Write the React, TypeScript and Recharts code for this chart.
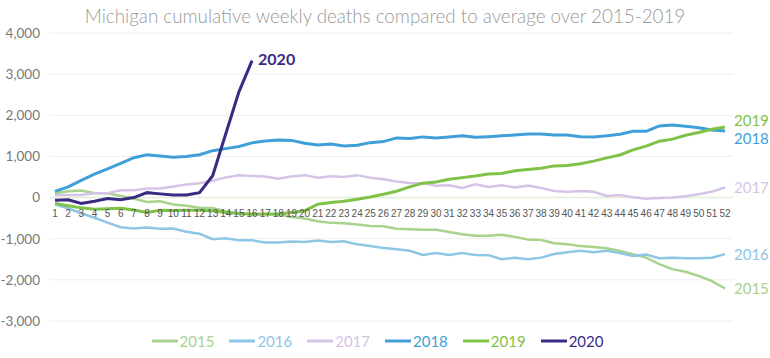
import React from "react";
import { LineChart, Line, XAxis, YAxis, CartesianGrid, ReferenceLine, Legend } from "recharts";

const weeks = [1,2,3,4,5,6,7,8,9,10,11,12,13,14,15,16,17,18,19,20,21,22,23,24,25,26,27,28,29,30,31,32,33,34,35,36,37,38,39,40,41,42,43,44,45,46,47,48,49,50,51,52];

const y2015 = [105,155,170,105,105,40,-25,-105,-90,-170,-200,-245,-255,-330,-390,-400,-400,-410,-470,-510,-575,-615,-625,-655,-690,-695,-760,-770,-785,-785,-835,-890,-930,-930,-905,-955,-1020,-1030,-1110,-1135,-1180,-1200,-1230,-1295,-1375,-1460,-1620,-1740,-1805,-1905,-2030,-2210];
const y2016 = [-170,-260,-380,-490,-610,-720,-750,-730,-760,-750,-830,-880,-1010,-990,-1040,-1040,-1090,-1090,-1070,-1080,-1045,-1080,-1060,-1135,-1175,-1225,-1255,-1295,-1395,-1350,-1395,-1345,-1395,-1400,-1500,-1460,-1500,-1460,-1370,-1330,-1295,-1330,-1290,-1345,-1420,-1385,-1475,-1460,-1475,-1475,-1460,-1375];
const y2017 = [55,65,65,105,105,180,180,220,220,270,315,350,410,490,540,525,510,455,510,545,480,520,500,545,480,445,390,355,350,285,300,235,325,260,300,245,290,235,160,140,160,140,40,65,10,-30,-10,0,30,80,145,245];
const y2018 = [150,260,420,570,700,830,970,1040,1010,980,1000,1040,1140,1190,1240,1330,1375,1400,1390,1320,1280,1300,1255,1270,1335,1360,1450,1435,1475,1450,1475,1505,1465,1480,1500,1520,1545,1545,1520,1520,1480,1475,1500,1540,1610,1610,1740,1765,1735,1695,1645,1620];
const y2019 = [-145,-200,-250,-285,-270,-260,-300,-365,-310,-315,-310,-310,-325,-365,-390,-405,-400,-400,-365,-325,-160,-120,-90,-40,15,80,155,260,350,380,445,485,525,575,585,650,680,715,770,780,820,885,965,1035,1160,1250,1370,1420,1515,1580,1660,1715];
const y2020 = [-65,-55,-145,-90,-25,-55,0,120,90,65,65,120,530,1550,2570,3330];

const yTicks = [-3000,-2000,-1000,0,1000,2000,3000,4000];

const series = [
  { key: "2015", values: y2015, color: "#a9d28c", width: 2.5, labelDy: 0 },
  { key: "2016", values: y2016, color: "#8ec6e6", width: 2.5, labelDy: 0 },
  { key: "2017", values: y2017, color: "#d5c4e6", width: 2.5, labelDy: 0 },
  { key: "2018", values: y2018, color: "#3f9fd8", width: 3, labelDy: 8 },
  { key: "2019", values: y2019, color: "#7fc247", width: 3, labelDy: -6 },
  { key: "2020", values: y2020, color: "#3b2a84", width: 3, labelDy: 0 },
];

const data = weeks.map((w, i) => {
  const row: any = { week: w };
  series.forEach((s) => {
    row[s.key] = i < s.values.length ? s.values[i] : null;
  });
  return row;
});

const FONT = "Lato, 'Noto Sans', sans-serif";
const NARROW = "'Liberation Sans Narrow', 'Liberation Sans', sans-serif";

function endLabel(s: any) {
  const last = s.values.length - 1;
  return (props: any) => {
    const { x, y, index } = props;
    if (index !== last) return null;
    if (s.key === "2020") {
      return (
        <text x={x + 6} y={y + 4} fill={s.color} fontSize={16} fontWeight={700} fontFamily={FONT}>
          {s.key}
        </text>
      );
    }
    return (
      <text x={x + 9} y={y + s.labelDy} dy="0.36em" fill={s.color} fontSize={15} fontFamily={FONT}>
        {s.key}
      </text>
    );
  };
}

const weekLabel = (props: any) => {
  const { x, y, index } = props;
  return (
    <text x={x} y={y + 16} dy="0.36em" textAnchor="middle" fill="#555" fontSize={10} fontFamily={NARROW}>
      {weeks[index]}
    </text>
  );
};

const LegendContent = (props: any) => {
  const items = (props.payload || []).filter((p: any) => series.some((s) => s.key === p.value));
  return (
    <div style={{ display: "flex", justifyContent: "center", alignItems: "center", fontFamily: FONT }}>
      {items.map((p: any) => (
        <div key={p.value} style={{ display: "flex", alignItems: "center", marginRight: 15 }}>
          <svg width={26} height={4} style={{ marginRight: 2 }}>
            <line x1={0} y1={2} x2={26} y2={2} stroke={p.color} strokeWidth={3} />
          </svg>
          <span style={{ color: p.color, fontSize: 15 }}>{p.value}</span>
        </div>
      ))}
    </div>
  );
};

export default function App() {
  return (
    <div style={{ position: "relative", width: 770, height: 358, background: "#fff" }}>
      <style>{"body{margin:0}"}</style>
      <div
        style={{
          position: "absolute",
          top: 4,
          left: 0,
          width: 770,
          textAlign: "center",
          fontFamily: FONT,
          fontWeight: 300,
          fontSize: 18.8,
          color: "#999",
          whiteSpace: "nowrap",
        }}
      >
        Michigan cumulative weekly deaths compared to average over 2015-2019
      </div>
      <LineChart
        width={770}
        height={358}
        data={data}
        margin={{ top: 33, right: 37, bottom: 37, left: 5 }}
        style={{ position: "absolute", top: 0, left: 0 }}
      >
        <CartesianGrid horizontal vertical={false} stroke="#eeeeee" />
        <XAxis dataKey="week" type="number" domain={[1, 52]} hide padding={{ left: 5, right: 8 }} />
        <YAxis
          domain={[-3000, 4000]}
          ticks={yTicks}
          width={45}
          axisLine={false}
          tickLine={false}
          tickFormatter={(v: number) => v.toLocaleString("en-US")}
          tick={{ fill: "#777", fontSize: 13.5, fontFamily: FONT }}
          tickMargin={4}
        />
        <ReferenceLine y={0} stroke="#e3efd8" strokeWidth={1.5} />
        {series.map((s) => (
          <Line
            key={s.key}
            type="linear"
            dataKey={s.key}
            name={s.key}
            stroke={s.color}
            strokeWidth={s.width}
            dot={false}
            activeDot={false}
            isAnimationActive={false}
            legendType="plainline"
            label={endLabel(s)}
            connectNulls={false}
          />
        ))}
        <Line
          dataKey={() => 0}
          name="weeks"
          stroke="none"
          dot={false}
          activeDot={false}
          legendType="none"
          isAnimationActive={false}
          label={weekLabel}
        />
        <Legend
          verticalAlign="middle"
          layout="horizontal"
          content={<LegendContent />}
          wrapperStyle={{ top: 332, left: 0, width: 770, height: 24 }}
        />
      </LineChart>
    </div>
  );
}
